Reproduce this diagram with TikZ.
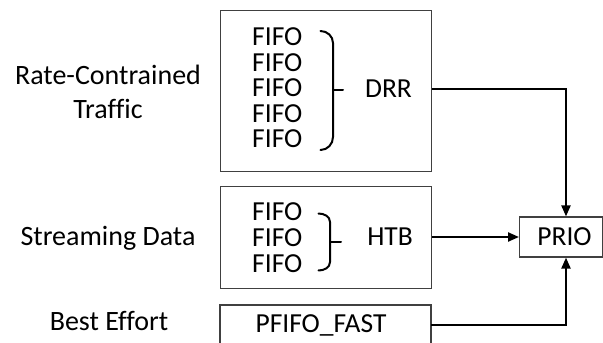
\documentclass[tikz,border=0pt]{standalone}
\usepackage{fontspec}
\setmainfont{Carlito}[Ligatures=CommonOff]
\usetikzlibrary{arrows.meta}
\begin{document}
\begin{tikzpicture}[x=1pt,y=-1pt,
  box/.style={draw=black!75, line width=1.2pt, inner sep=0pt},
  lbl/.style={font=\fontsize{28}{34}\selectfont, inner sep=0pt, align=center},
  txt/.style={font=\fontsize{27.5}{30}\selectfont, inner sep=0pt},
  link/.style={line width=2.2pt},
  arr/.style={link, -{Triangle[length=11pt,width=9pt]}},
  bracestyle/.style={line width=2pt, line cap=round}]
\useasboundingbox (0,0) rectangle (603,343);

% queue boxes
\node[box, anchor=north west, minimum width=211pt, minimum height=161pt] (rcbox) at (220,10) {};
\node[box, anchor=north west, minimum width=211pt, minimum height=102pt] (stbox) at (220,186) {};
% best-effort box runs past the lower edge
\draw[draw=black!75, line width=1.2pt] (220,345) -- (220,305) -- (431,305) -- (431,345);
\coordinate (beright) at (431,325);

% class labels (base anchor sits on the last line)
\node[lbl, anchor=base] (rclabel) at (108,118) {Rate-Contrained\\Traffic};
\node[lbl, anchor=base] (stlabel) at (108,245) {Streaming Data};
\node[lbl, anchor=base] (belabel) at (109,330) {Best Effort};

% rate-constrained queues
\foreach \i/\y in {1/37,2/62.5,3/88,4/113.5,5/139}
  \node[txt, anchor=west] (rcq\i) at (252,\y) {FIFO};
\draw[bracestyle] (320.5,31) to[out=0,in=90] (333,43) -- (333,137) to[out=-90,in=0] (320.5,150);
\draw[bracestyle] (333,90) -- (343,90);
\node[txt] (drr) at (388.5,89) {DRR};

% streaming queues
\foreach \i/\y in {1/212,2/238,3/263.5}
  \node[txt, anchor=west] (stq\i) at (252,\y) {FIFO};
\draw[bracestyle] (318.5,213.5) to[out=0,in=90] (330,222) -- (330,262) to[out=-90,in=0] (318.5,270.5);
\draw[bracestyle] (330,242) -- (341,242);
\node[txt] (htb) at (390,237) {HTB};

% best-effort queue
\node[txt] (pfifo) at (321,325) {PFIFO\_FAST};

% priority scheduler
\node[box, anchor=west, minimum width=83pt, minimum height=40pt] (prio) at (519,237) {};
\node[txt] (priotext) at (564.5,237) {PRIO};

% connectors
\draw[arr] (rcbox.east |- drr) -| (prio.north -| 566,0);
\draw[arr] (stbox.east |- htb) -- (prio.west);
\draw[arr] (beright) -| (prio.south -| 566,0);
\end{tikzpicture}
\end{document}
